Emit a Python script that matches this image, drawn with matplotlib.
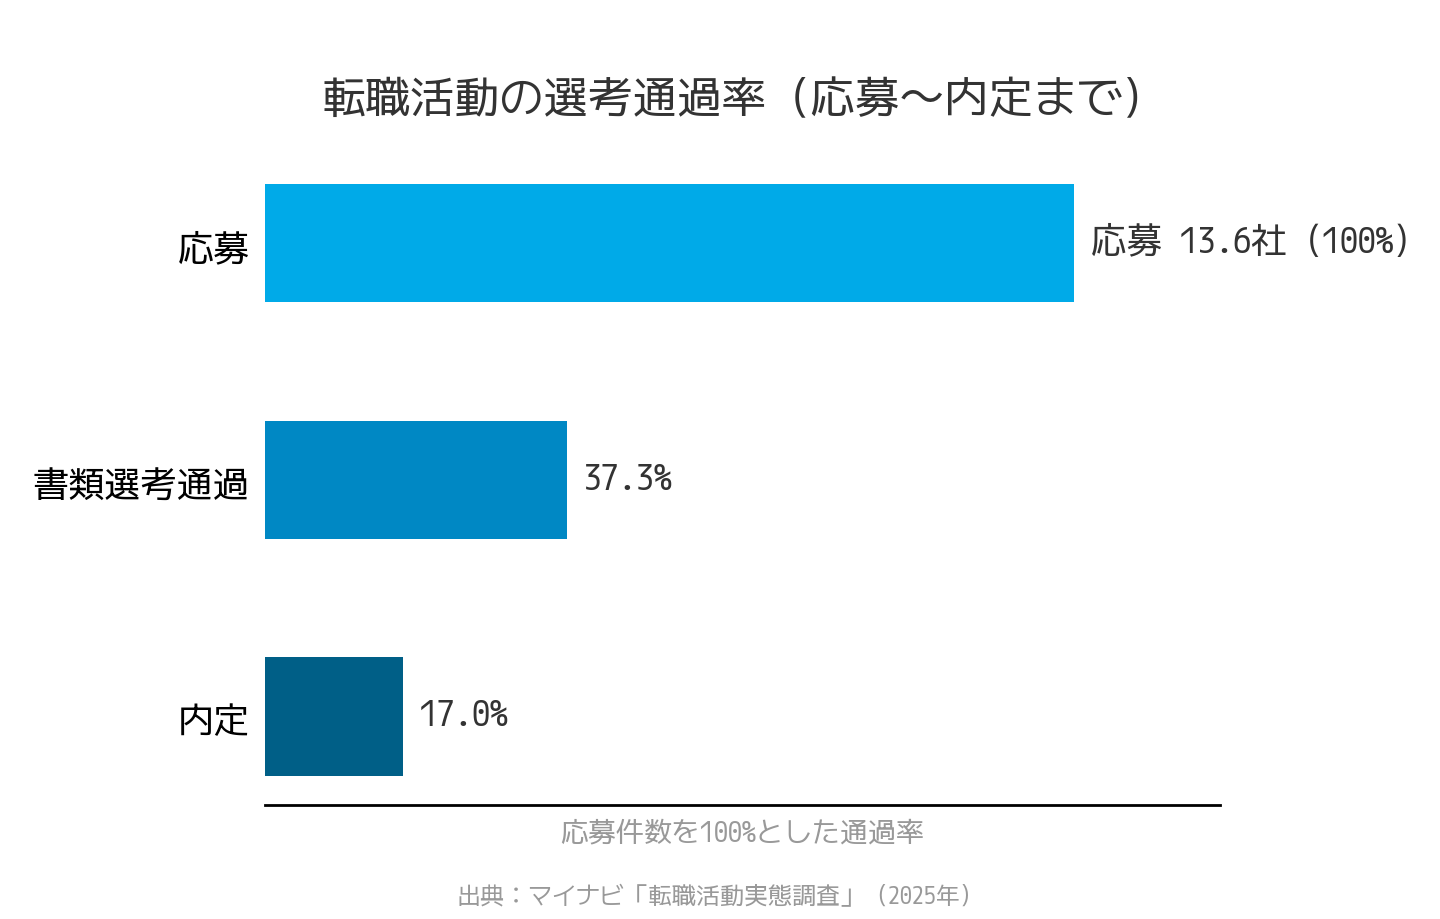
import matplotlib
matplotlib.use("Agg")
import matplotlib.pyplot as plt
from matplotlib import font_manager
from matplotlib.transforms import ScaledTranslation

names = {f.name for f in font_manager.fontManager.ttflist}
fams = [f for f in ["M PLUS 1 Code", "Noto Sans CJK JP", "DejaVu Sans"] if f in names]
plt.rcParams["font.family"] = fams

categories = ["応募", "書類選考通過", "内定"]
values = [100.0, 37.3, 17.0]
value_labels = ["応募 13.6社（100%）", "37.3%", "17.0%"]
colors = ["#00AAE8", "#0088C4", "#005F87"]
title = "転職活動の選考通過率（応募〜内定まで）"
xlabel = "応募件数を100%とした通過率"
source = "出典：マイナビ「転職活動実態調査」（2025年）"

fig = plt.figure(figsize=(14.4, 9.2), dpi=100)
ax = fig.add_axes([265/1440, 1-805.5/920, (1220-265)/1440, (805.5-156)/920])

y = list(range(len(categories)))
ax.barh(y, values, height=0.5, color=colors)
ax.set_ylim(2.372, -0.372)
ax.set_xlim(0, 118)

for yi, v, lab in zip(y, values, value_labels):
    ax.text(v + 2.1, yi, lab, va="center", ha="left", fontsize=25.7, color="#333333")

ax.set_yticks(y)
ax.set_yticklabels(categories, fontsize=26, color="#000000")
ax.tick_params(axis="y", length=0, pad=11)
for lbl in ax.get_yticklabels():
    lbl.set_transform(lbl.get_transform() + ScaledTranslation(0, -3/100, fig.dpi_scale_trans))
ax.set_xticks([])
for s in ["top", "right", "left"]:
    ax.spines[s].set_visible(False)
ax.spines["bottom"].set_linewidth(2)
ax.spines["bottom"].set_color("#000000")

ax.set_xlabel(xlabel, fontsize=20.2, color="#999999", labelpad=11)

fig.text(744/1440, 1-102/920, title, ha="center", va="center", fontsize=32, color="#333333")
fig.text(720/1440, 1-898/920, source, ha="center", va="center", fontsize=17.3, color="#999999")

fig.savefig("out.png", dpi=100, facecolor="white")
